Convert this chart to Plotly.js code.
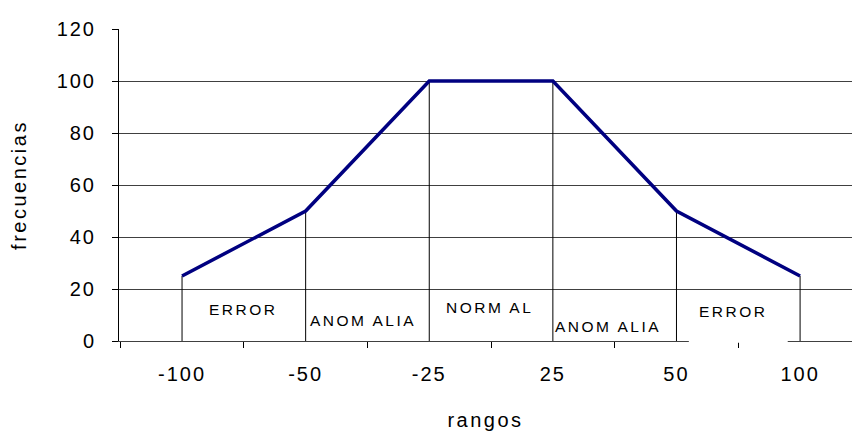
<!DOCTYPE html>
<html>
<head>
<meta charset="utf-8">
<script src="https://cdn.plot.ly/plotly-3.0.1.min.js"></script>
<style>
html,body{margin:0;padding:0;background:#fff;}
#chart{width:852px;height:433px;}
.xtick text,.ytick text{letter-spacing:2px;}
.annotation-text{letter-spacing:2.5px;}
.g-xtitle text,.g-ytitle text{letter-spacing:2.5px;}
</style>
</head>
<body>
<div id="chart"></div>
<script>
// Data
var categories = ["-100", "-50", "-25", "25", "50", "100"];
var frecuencias = [25, 50, 100, 100, 50, 25];
var zoneLabels = ["ERROR", "ANOM ALIA", "NORM AL", "ANOM ALIA", "ERROR"];
var zoneLabelY = [12, 7.7, 12.7, 5.4, 11.2];

// drop lines from each point down to 0
var dropX = [], dropY = [];
for (var i = 0; i < categories.length; i++) {
  dropX.push(categories[i], categories[i], null);
  dropY.push(0, frecuencias[i], null);
}

var traces = [
  {x: dropX, y: dropY, type: "scatter", mode: "lines",
   line: {color: "#000000", width: 1}, hoverinfo: "skip", showlegend: false},
  {x: categories, y: frecuencias, type: "scatter", mode: "lines",
   line: {color: "#000080", width: 3.5}, showlegend: false}
];

var annXoffsets = [-0.01, -0.04, -0.01, -0.05, -0.04];
var annotations = zoneLabels.map(function (t, i) {
  return {x: i + 0.5 + annXoffsets[i], y: zoneLabelY[i], xref: "x", yref: "y",
          text: t, showarrow: false,
          font: {family: "Liberation Sans, Arial, sans-serif", size: 15.5, color: "#000"}};
});

var layout = {
  width: 852, height: 433,
  margin: {l: 119, r: 0, t: 29, b: 92},
  paper_bgcolor: "#fff", plot_bgcolor: "#fff",
  font: {family: "Liberation Sans, Arial, sans-serif", color: "#000", size: 20},
  xaxis: {
    type: "category", range: [-0.51, 5.42],
    tickson: "boundaries", ticks: "outside", ticklen: 6, tickcolor: "#000",
    ticklabelstandoff: 15,
    showline: true, linecolor: "#404040", linewidth: 1,
    showgrid: false, zeroline: false, layer: "below traces",
    tickfont: {size: 20},
    title: {text: "rangos", font: {size: 20}, standoff: 28}
  },
  yaxis: {
    range: [0, 120], dtick: 20, tick0: 0,
    ticks: "outside", ticklen: 6, tickcolor: "#000",
    ticklabelstandoff: 12,
    showline: true, linecolor: "#000", linewidth: 1,
    showgrid: true, gridcolor: "#404040", gridwidth: 1,
    zeroline: false,
    tickfont: {size: 20},
    title: {text: "frecuencias", font: {size: 20}, standoff: 24}
  },
  annotations: annotations,
  shapes: [
    {type: "rect", xref: "x", yref: "paper", x0: 4.1, x1: 4.9, y0: -0.006, y1: 0.13,
     fillcolor: "#ffffff", line: {width: 0}, layer: "above"}
  ]
};

Plotly.newPlot("chart", traces, layout, {displayModeBar: false, staticPlot: true});
</script>
</body>
</html>
